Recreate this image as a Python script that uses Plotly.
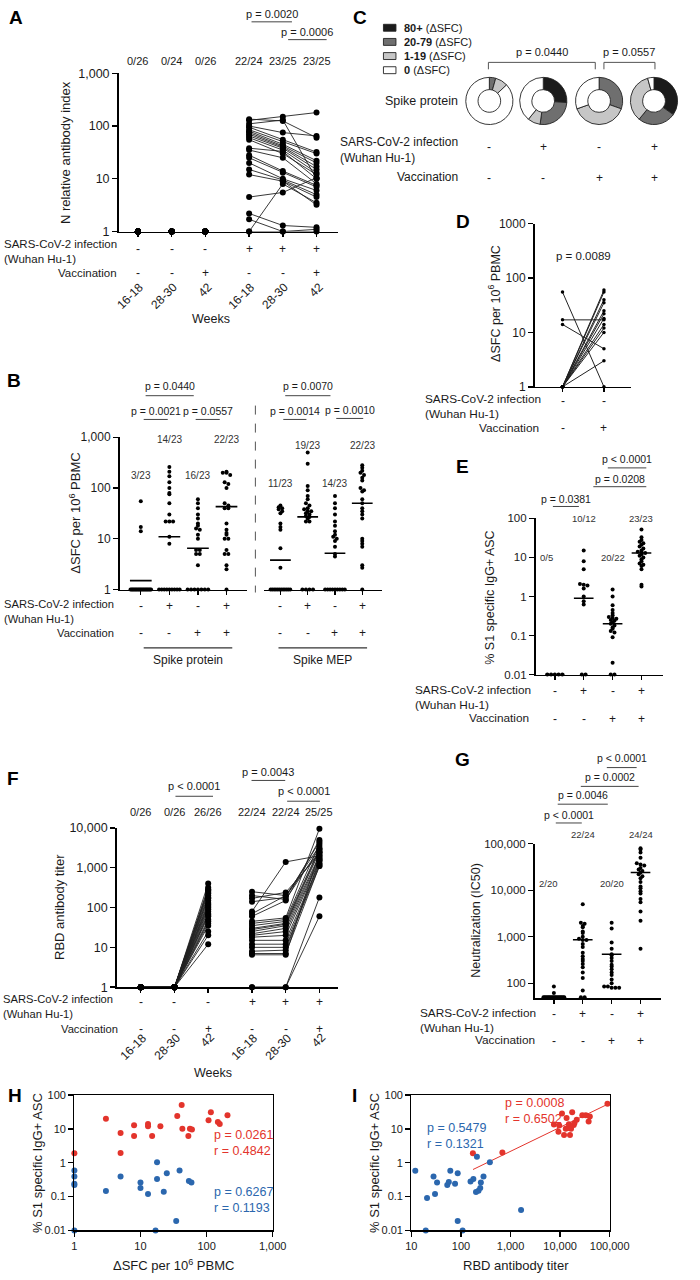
import numpy as np
import plotly.graph_objects as go

W, H = 700, 1280
FONT = "Liberation Sans, Arial, Helvetica, sans-serif"
LETTER_FONT = "Liberation Sans Narrow, Liberation Sans, Arial, sans-serif"
INK = "#1a1a1a"
RED = "#e3342c"
BLUE = "#2b67ae"
C_COLORS = ["#1b1b1b", "#6f6f6f", "#c6c6c6", "#ffffff"]

# ======================= DATA =======================
# --- Panel A: N relative antibody index ---
week_labels = ["16-18", "28-30", "42", "16-18", "28-30", "42"]
a_infection = ["-", "-", "-", "+", "+", "+"]
a_vaccination = ["-", "-", "+", "-", "-", "+"]
a_counts = ["0/26", "0/24", "0/26", "22/24", "23/25", "23/25"]
a_uninf_w16 = [1, 1, 1, 1, 1, 1, 1, 1, 1, 1, 1, 1, 1, 1, 1, 1, 1, 1, 1, 1, 1, 1, 1, 1, 1, 1]
a_uninf_w28 = [1, 1, 1, 1, 1, 1, 1, 1, 1, 1, 1, 1, 1, 1, 1, 1, 1, 1, 1, 1, 1, 1, 1, 1]
a_uninf_w42 = [1, 1, 1, 1, 1, 1, 1, 1, 1, 1, 1, 1, 1, 1, 1, 1, 1, 1, 1, 1, 1, 1, 1, 1, 1, 1]
a_inf_w16 = [135, 128, 110, 100, 95, 85, 80, 75, 70, 65, 60, 55, 38, 35, 28, 25, 20, 15, 12, 4.5, 2.2, 1.7, 1, 1, None]
a_inf_w28 = [125, 150, 130, 75, 55, 50, 45, 42, 40, 38, 35, 30, 33, 25, 14, 13, 10, 9.5, 9, 5.5, 1.3, 1, 1, 8, 9]
a_inf_w42 = [60, 180, 10, 65, 32, 30, 22, 20, 17, 15, 13, 12, 10, 8, 7.5, 7, 6, 5, 4.5, 10.5, 1.2, 1.1, 1, 3.5, 3.2]

# --- Panel B: dSFC per 10^6 PBMC ---
b_infection = ["-", "+", "-", "+"]
b_vaccination = ["-", "-", "+", "+"]
b_spike_counts = ["3/23", "14/23", "16/23", "22/23"]
b_mep_counts = ["11/23", "19/23", "14/23", "22/23"]
b_spike_g1 = [55, 17, 14, 1, 1, 1, 1, 1, 1, 1, 1, 1, 1, 1, 1, 1, 1, 1, 1, 1, 1, 1, 1]
b_spike_g2 = [260, 210, 170, 130, 100, 80, 75, 50, 30, 22, 22, 22, 11, 8, 1, 1, 1, 1, 1, 1, 1, 1, 1]
b_spike_g3 = [60, 50, 40, 30, 25, 20, 18, 16, 15, 12, 10, 6, 6, 5, 5, 3, 1, 1, 1, 1, 1, 1, 1]
b_spike_g4 = [210, 200, 200, 180, 130, 120, 100, 50, 45, 40, 40, 20, 15, 13, 12, 10, 10, 6, 5, 5, 3, 2.5, 1]
b_mep_g1 = [45, 42, 40, 38, 35, 32, 20, 17, 15, 6.5, 2.7, 1, 1, 1, 1, 1, 1, 1, 1, 1, 1, 1, 1]
b_mep_g2 = [500, 300, 110, 90, 70, 60, 50, 45, 40, 38, 35, 35, 32, 30, 28, 27, 25, 22, 22, 1, 1, 1, 1]
b_mep_g3 = [70, 50, 40, 30, 22, 18, 14, 12, 11, 10, 9, 7, 5, 4.5, 1, 1, 1, 1, 1, 1, 1, 1, 1]
b_mep_g4 = [280, 250, 220, 200, 180, 160, 140, 100, 90, 85, 60, 50, 40, 35, 30, 25, 10, 9, 8, 7, 3, 2.7, 1]
b_spike_mean = [1.5, 11, 6.5, 43]
b_mep_mean = [3.8, 27, 5.2, 50]

# --- Panel C: donuts (number of subjects per dSFC bin) ---
c_bins = ["80+", "20-79", "1-19", "0"]
c_counts = [[0, 1, 2, 20], [6, 6, 2, 9], [0, 7, 9, 7], [8, 6, 8, 1]]
c_infection = ["-", "+", "-", "+"]
c_vaccination = ["-", "-", "+", "+"]

# --- Panel D: paired dSFC ---
d_infection = ["-", "-"]
d_vaccination = ["-", "+"]
d_before = [55, 17, 14, 1, 1, 1, 1, 1, 1, 1, 1, 1, 1, 1]
d_after = [1, 17, 5, 60, 55, 40, 35, 25, 22, 18, 14, 12, 10, 3]

# --- Panel E: % S1 specific IgG+ ASC ---
e_counts = ["0/5", "10/12", "20/22", "23/23"]
e_g1 = [0.01, 0.01, 0.01, 0.01, 0.01]
e_g2 = [15, 8, 5, 2.1, 2, 1.9, 1.6, 1, 0.75, 0.62, 0.01, 0.01]
e_g3 = [1.5, 1, 0.6, 0.45, 0.38, 0.33, 0.3, 0.28, 0.27, 0.25, 0.24, 0.22, 0.2, 0.18, 0.16, 0.15, 0.13, 0.12, 0.09, 0.02, 0.01, 0.01]
e_g4 = [52, 33, 28, 25, 23, 21, 19, 17, 15, 14, 13.5, 13, 12, 11, 10, 9, 8, 7, 6.5, 6, 5, 2, 1.8]
e_mean = [0.01, 0.9, 0.2, 13]

# --- Panel F: RBD antibody titer ---
f_counts = ["0/26", "0/26", "26/26", "22/24", "22/24", "25/25"]
f_uninf_w16 = [1, 1, 1, 1, 1, 1, 1, 1, 1, 1, 1, 1, 1, 1, 1, 1, 1, 1, 1, 1, 1, 1, 1, 1, 1, 1]
f_uninf_w28 = [1, 1, 1, 1, 1, 1, 1, 1, 1, 1, 1, 1, 1, 1, 1, 1, 1, 1, 1, 1, 1, 1, 1, 1, 1, 1]
f_uninf_w42 = [400, 320, 290, 270, 250, 230, 200, 180, 170, 150, 130, 120, 110, 100, 90, 80, 70, 65, 60, 50, 45, 40, 35, 25, 20, 12]
f_inf_w16 = [250, 200, 170, 80, 140, 70, 60, 45, 40, 35, 30, 28, 25, 22, 20, 18, 15, 12, 10, 8, 7, 6.5, 1, 1, None]
f_inf_w28 = [200, 160, 240, 1400, 180, 200, 150, 55, 50, 45, 40, 38, 35, 30, 25, 20, 15, 12, 10, 8.5, 7, 6.5, 1, 1, None]
f_inf_w42 = [2500, 3000, 2200, 2000, 4500, 3500, 5000, 9500, 4000, 3000, 2800, 2500, 2000, 1800, 1600, 1500, 1300, 1200, 1100, 1500, 1100, 2400, 180, 60, 1700]

# --- Panel G: Neutralization (IC50) ---
g_counts = ["2/20", "22/24", "20/20", "24/24"]
g_g1 = [85, 62, 50, 50, 50, 50, 50, 50, 50, 50, 50, 50, 50, 50, 50, 50, 50, 50, 50, 50]
g_g2 = [5000, 2000, 1900, 1700, 1600, 1300, 1200, 1000, 900, 850, 850, 700, 600, 450, 380, 330, 300, 260, 220, 170, 130, 70, 50, 50]
g_g3 = [2000, 1500, 750, 550, 420, 400, 350, 300, 250, 230, 200, 170, 150, 120, 100, 85, 85, 80, 80, 80]
g_g4 = [80000, 75000, 65000, 50000, 38000, 36000, 34000, 30000, 28000, 26000, 24000, 22000, 20000, 18000, 15000, 12000, 11000, 9500, 8500, 6500, 5500, 3500, 2200, 550]
g_mean = [50, 860, 420, 24000]

# --- Panel H: ASC vs dSFC ---
h_red_x = [1, 3, 5, 5, 8, 8, 13, 13, 15, 20, 36, 42, 43, 53, 56, 60, 107, 116, 148, 158, 207]
h_red_y = [1.9, 20, 7.6, 1.95, 12.8, 6.1, 14, 12, 6.2, 12, 24, 51, 10, 6.2, 10, 9.5, 18, 31, 16, 14, 25]
h_blue_x = [1, 1, 1, 1, 1, 3, 5, 10, 10, 13, 17.8, 17.8, 22.5, 25, 34.7, 16.9, 39, 54, 59]
h_blue_y = [0.59, 0.39, 0.24, 0.22, 0.01, 0.146, 0.39, 0.26, 0.18, 0.12, 1.03, 0.33, 0.14, 0.49, 0.019, 0.01, 0.59, 0.29, 0.26]
h_red_stats = ["p = 0.0261", "r = 0.4842"]
h_blue_stats = ["p = 0.6267", "r = 0.1193"]

# --- Panel I: ASC vs RBD titer ---
i_red_x = [174, 684, 7500, 9250, 9600, 10900, 12000, 13000, 13500, 14600, 15000, 15800, 16600, 17500, 18800, 19500, 21600, 28000, 33000, 37600, 39700, 90000]
i_red_y = [1.9, 2.0, 13.4, 8.2, 12.5, 28.6, 6.6, 10, 21, 10.6, 13.7, 6.6, 10, 31, 12.9, 14.9, 18.6, 25, 25, 16.5, 23, 55]
i_blue_x = [12, 19.5, 20.7, 28, 30, 33, 53, 57, 61, 76, 86, 86, 108, 156, 178, 210, 201, 226, 245, 252, 285, 383, 1630]
i_blue_y = [0.58, 0.01, 0.091, 0.39, 0.12, 0.26, 0.22, 0.27, 0.58, 0.24, 0.49, 0.019, 0.01, 0.28, 0.33, 1.5, 0.137, 0.15, 0.18, 0.26, 0.39, 1.03, 0.04]
i_fit_x = [175, 100000]
i_fit_y = [0.63, 57]
i_red_stats = ["p = 0.0008", "r = 0.6502"]
i_blue_stats = ["p = 0.5479", "r = 0.1321"]

# ======================= HELPERS =======================
fig = go.Figure()
ann, shapes = [], []
axes = {}


def px_x(x):
    return x / W


def px_y(y):
    return 1 - y / H


def cat_range(L, R, c0, c1, p0, p1):
    s = (c1 - c0) / (p1 - p0)
    return [p0 - (c0 - L) / s, p1 + (R - c1) / s]


GAP = 0.3
pos2 = [0, 1]
pos4 = [0, 1, 2, 3]
pos6 = [0, 1, 2, 3 + GAP, 4 + GAP, 5 + GAP]

BASE = dict(showgrid=False, zeroline=False, showline=True, linecolor="black",
            linewidth=1.6, ticks="outside", tickcolor="black", tickwidth=1.4,
            ticklen=5, fixedrange=True,
            tickfont=dict(family=FONT, size=12, color=INK))


def xcat(key, L, R, c0, c1, positions, anchor):
    axes[key] = dict(BASE, domain=[px_x(L), px_x(R)], anchor=anchor,
                     range=cat_range(L, R, c0, c1, positions[0], positions[-1]),
                     tickvals=list(positions), showticklabels=False, ticklen=4)


def ylog(key, T, B, anchor, rng, tv, tt, size=12, **kw):
    axes[key] = dict(BASE, domain=[px_y(B), px_y(T)], anchor=anchor, type="log",
                     range=rng, tickvals=tv, ticktext=tt,
                     tickfont=dict(family=FONT, size=size, color=INK), **kw)


def xlog(key, L, R, anchor, rng, tv, tt, size=11, **kw):
    axes[key] = dict(BASE, domain=[px_x(L), px_x(R)], anchor=anchor, type="log",
                     range=rng, tickvals=tv, ticktext=tt,
                     tickfont=dict(family=FONT, size=size, color=INK), **kw)


def txt(t, x, y, size=11, xref="paper", xanchor="center", yanchor="middle",
        color=INK, angle=0, align="center", xshift=0, yshift=0, family=FONT):
    ann.append(dict(text=t, x=px_x(x) if xref == "paper" else x, y=px_y(y),
                    xref=xref, yref="paper", showarrow=False, xanchor=xanchor,
                    yanchor=yanchor, align=align, textangle=angle, xshift=xshift,
                    yshift=yshift, font=dict(family=family, size=size, color=color)))


def hline(x0, x1, y, color="#333", width=1.0, dash=None):
    shapes.append(dict(type="line", xref="paper", yref="paper", x0=px_x(x0), x1=px_x(x1),
                       y0=px_y(y), y1=px_y(y), line=dict(color=color, width=width, dash=dash)))


def bracket(x0, x1, ly, ty, label, size=10.5):
    hline(x0, x1, ly, color="#444", width=1.0)
    txt(label, (x0 + x1) / 2, ty, size)


def row_labels(right, inf_y, vac_y, vac_right=None, size=11.5):
    txt("SARS-CoV-2 infection<br>(Wuhan Hu-1)", right, inf_y, size, xanchor="right", align="left")
    txt("Vaccination", vac_right if vac_right else right, vac_y, size, xanchor="right")


def signs(xref, positions, inf, vac, inf_y, vac_y, size=12):
    for p, a, b in zip(positions, inf, vac):
        txt(a, p, inf_y, size, xref=xref)
        txt(b, p, vac_y, size, xref=xref)


def weeks(xref, positions, labels, end_y, size=12):
    for p, lab in zip(positions, labels):
        d = 0.27 * size * len(lab) * 0.7071
        txt(lab, p, end_y, size, xref=xref, angle=-45, xshift=4 - d, yshift=-d)


def swarm_offsets(vals, bin_w=0.06, step=0.13, max_half=0.36):
    v = np.log10(np.asarray(vals, float))
    keys = np.round(v / bin_w).astype(int)
    offs = np.zeros(len(v))
    for k in np.unique(keys):
        idx = np.where(keys == k)[0]
        n = len(idx)
        if n > 1:
            hw = min(max_half, (n - 1) * step / 2)
            offs[idx] = np.linspace(-hw, hw, n)
    return offs


def sc(**kw):
    kw.setdefault("showlegend", False)
    kw.setdefault("hoverinfo", "skip")
    kw.setdefault("cliponaxis", False)
    fig.add_trace(go.Scatter(**kw))


def dots(xa, ya, positions, groups, means, msize=4, mhalf=0.38):
    for p, vals, m in zip(positions, groups, means):
        off = swarm_offsets(vals)
        sc(x=p + off, y=vals, mode="markers", marker=dict(size=msize, color="black"),
           xaxis=xa, yaxis=ya)
        if m is not None:
            sc(x=[p - mhalf, p + mhalf], y=[m, m], mode="lines",
               line=dict(color="black", width=1.6), xaxis=xa, yaxis=ya)


def subject_lines(positions, series):
    xs, ys = [], []
    for i in range(len(series[0])):
        for p, s in zip(positions, series):
            if s[i] is not None:
                xs.append(p)
                ys.append(s[i])
        xs.append(None)
        ys.append(None)
    return xs, ys


def ytitle(t, x, y, size=12.5):
    txt(t, x, y, size, angle=-90)


def letter(t, x, y):
    txt("<b>" + t + "</b>", x, y, 19, family=LETTER_FONT, color="black")


# ======================= PANEL A =======================
xcat("xaxis", 117, 345, 137, 322.5, pos6, "y")
ylog("yaxis", 67, 227, "x", [0, 3], [1, 10, 100, 1000], ["1", "10", "100", "1,000"], size=12.5)
for p, vals in zip(pos6[:3], [a_uninf_w16, a_uninf_w28, a_uninf_w42]):
    sc(x=[p] * len(vals), y=vals, mode="markers", marker=dict(size=6, color="black"), xaxis="x", yaxis="y")
xs, ys = subject_lines(pos6[3:], [a_inf_w16, a_inf_w28, a_inf_w42])
sc(x=xs, y=ys, mode="lines+markers", line=dict(color="#222", width=0.9),
   marker=dict(size=6, color="black"), xaxis="x", yaxis="y", connectgaps=False)
for p, c in zip(pos6, a_counts):
    txt(c, p, 55, 11, xref="x")
bracket(255, 297, 15, 7, "p = 0.0020", 11)
bracket(293, 333, 33, 25, "p = 0.0006", 11)
ytitle("N relative antibody index", 62, 147, 13)
row_labels(117, 247, 269, size=11.5)
signs("x", pos6, a_infection, a_vaccination, 245, 269)
weeks("x", pos6, week_labels, 281)
txt("Weeks", 213, 315, 12.5)
letter("A", 10, 11)

# ======================= PANEL B =======================
xcat("xaxis2", 118, 250, 140, 229, pos4, "y2")
xcat("xaxis3", 268, 390, 285, 370, pos4, "y2")
ylog("yaxis2", 435, 589, "x2", [0, 3], [1, 10, 100, 1000], ["1", "10", "100", "1,000"], size=12)
dots("x2", "y2", pos4, [b_spike_g1, b_spike_g2, b_spike_g3, b_spike_g4], b_spike_mean)
dots("x3", "y2", pos4, [b_mep_g1, b_mep_g2, b_mep_g3, b_mep_g4], b_mep_mean)
for p, c, yy in zip(pos4, b_spike_counts, [474, 437, 474, 437]):
    txt(c, p, yy, 10, xref="x2", color="#333")
for p, c, yy in zip(pos4, b_mep_counts, [482, 443, 482, 443]):
    txt(c, p, yy, 10, xref="x3", color="#333")
shapes.append(dict(type="line", xref="paper", yref="paper", x0=px_x(259), x1=px_x(259),
                   y0=px_y(403), y1=px_y(592), line=dict(color="#555", width=1, dash="dash")))
bracket(145, 195, 393, 383, "p = 0.0440")
bracket(143, 168, 417, 408, "p = 0.0021")
bracket(197, 222, 417, 408, "p = 0.0557")
bracket(290, 337, 393, 383, "p = 0.0070")
bracket(288, 312, 417, 408, "p = 0.0014")
bracket(343, 371, 416, 407, "p = 0.0010")
ytitle("ΔSFC per 10<sup>6</sup> PBMC", 72, 512, 13)
row_labels(114, 611, 633, size=11.2)
signs("x2", pos4, b_infection, b_vaccination, 606, 633)
signs("x3", pos4, b_infection, b_vaccination, 606, 633)
hline(143, 235, 648, color="#333", width=1.2)
hline(283, 375, 648, color="#333", width=1.2)
txt("Spike protein", 189, 660, 12)
txt("Spike MEP", 329, 660, 12)
letter("B", 8, 378)

# ======================= PANEL C =======================
c_centers = [502, 558, 616, 673]
C_CY, C_R = 95, 24.5
for cx, counts in zip(c_centers, c_counts):
    fig.add_trace(go.Pie(values=counts, labels=c_bins, sort=False, direction="clockwise",
                         rotation=0, hole=0.48, textinfo="none", hoverinfo="skip",
                         showlegend=False,
                         marker=dict(colors=C_COLORS, line=dict(color="#222", width=0.9)),
                         domain=dict(x=[px_x(cx - C_R), px_x(cx + C_R)],
                                     y=[px_y(C_CY + C_R), px_y(C_CY - C_R)])))
for i, (lab, col) in enumerate(zip(c_bins, C_COLORS)):
    yc = 21 + 14.3 * i
    shapes.append(dict(type="rect", xref="paper", yref="paper", x0=px_x(392), x1=px_x(405),
                       y0=px_y(yc + 3.5), y1=px_y(yc - 3.5), fillcolor=col,
                       line=dict(color="#222", width=0.9)))
    txt("<b>" + lab + "</b> (ΔSFC)", 411, yc, 11, xanchor="left")
txt("Spike protein", 472, 95, 12.5, xanchor="right")


def c_bracket(x0, x1, label):
    shapes.append(dict(type="path", xref="paper", yref="paper",
                       path="M {} {} L {} {} L {} {} L {} {}".format(
                           px_x(x0), px_y(63), px_x(x0), px_y(56),
                           px_x(x1), px_y(56), px_x(x1), px_y(63)),
                       line=dict(color="#555", width=1)))
    txt(label, (x0 + x1) / 2, 45, 11)


c_bracket(501, 612, "p = 0.0440")
c_bracket(621, 674, "p = 0.0557")
txt("SARS-CoV-2 infection<br>(Wuhan Hu-1)", 472, 145, 12, xanchor="right", align="left")
txt("Vaccination", 472, 172, 12, xanchor="right")
for cx, a, b in zip(c_centers, c_infection, c_vaccination):
    txt(a, cx, 142, 12)
    txt(b, cx, 173, 12)
letter("C", 368, 11)

# ======================= PANEL D =======================
xcat("xaxis4", 549, 649, 578, 621, pos2, "y4")
ylog("yaxis4", 219, 384, "x4", [0, 3], [1, 10, 100, 1000], ["1", "10", "100", "1000"], size=12)
xs, ys = subject_lines(pos2, [d_before, d_after])
sc(x=xs, y=ys, mode="lines+markers", line=dict(color="#222", width=1),
   marker=dict(size=3.5, color="black"), xaxis="x4", yaxis="y4")
txt("p = 0.0089", 600, 252, 11.5)
ytitle("ΔSFC per 10<sup>6</sup> PBMC", 507, 300, 12.5)
row_labels(558, 404, 426, vac_right=556, size=11.8)
signs("x4", pos2, d_infection, d_vaccination, 398, 426)
letter("D", 475, 217)

# ======================= PANEL E =======================
xcat("xaxis5", 550, 682, 570, 660, pos4, "y5")
ylog("yaxis5", 517, 675, "x5", [-2, 2], [0.01, 0.1, 1, 10, 100],
     ["0.01", "0.1", "1", "10", "100"], size=11.5)
dots("x5", "y5", pos4, [e_g1, e_g2, e_g3, e_g4], e_mean, mhalf=0.34)
for p, c, yy, sh in zip(pos4, e_counts, [557, 517, 557, 517], [-8, 0, 0, 0]):
    txt(c, p, yy, 9.5, xref="x5", color="#333", xshift=sh)
bracket(568, 595, 505, 497, "p = 0.0381")
bracket(610, 665, 485, 477, "p = 0.0208")
bracket(625, 665, 466, 457, "p < 0.0001")
ytitle("% S1 specific IgG+ ASC", 503, 597, 12.5)
row_labels(547, 698, 719, vac_right=545, size=11.8)
signs("x5", pos4, b_infection, b_vaccination, 692, 720)
letter("E", 474, 465)

# ======================= PANEL F =======================
xcat("xaxis6", 115, 345, 140, 325.5, pos6, "y6")
ylog("yaxis6", 830, 991, "x6", [0, 4], [1, 10, 100, 1000, 10000],
     ["1", "10", "100", "1,000", "10,000"], size=12.5)
xs, ys = subject_lines(pos6[:3], [f_uninf_w16, f_uninf_w28, f_uninf_w42])
sc(x=xs, y=ys, mode="lines+markers", line=dict(color="#222", width=0.9),
   marker=dict(size=6, color="black"), xaxis="x6", yaxis="y6")
xs, ys = subject_lines(pos6[3:], [f_inf_w16, f_inf_w28, f_inf_w42])
sc(x=xs, y=ys, mode="lines+markers", line=dict(color="#222", width=0.9),
   marker=dict(size=6, color="black"), xaxis="x6", yaxis="y6")
for p, c in zip(pos6, f_counts):
    txt(c, p, 814, 11, xref="x6")
bracket(176, 215, 798, 788, "p < 0.0001", 11)
bracket(255, 290, 782, 773, "p = 0.0043", 11)
bracket(292, 326, 803, 793, "p < 0.0001", 11)
ytitle("RBD antibody titer", 55, 910, 13)
row_labels(113, 1011, 1033, vac_right=118, size=11.2)
signs("x6", pos6, a_infection, a_vaccination, 1006, 1033)
weeks("x6", pos6, week_labels, 1040)
txt("Weeks", 215, 1078, 12.5)
letter("F", 7, 780)

# ======================= PANEL G =======================
xcat("xaxis7", 549, 680, 569, 659, pos4, "y7")
ylog("yaxis7", 846, 1002, "x7", [np.log10(48), 5], [100, 1000, 10000, 100000],
     ["100", "1,000", "10,000", "100,000"], size=11.5)
dots("x7", "y7", pos4, [g_g1, g_g2, g_g3, g_g4], g_mean, mhalf=0.34)
for p, c, yy, sh in zip(pos4, g_counts, [886, 837, 886, 837], [-5, 0, 0, 0]):
    txt(c, p, yy, 9.5, xref="x7", color="#333", xshift=sh)
bracket(571, 598, 825, 817, "p < 0.0001")
bracket(573, 625, 806, 797, "p = 0.0046")
bracket(597, 657, 788, 779, "p = 0.0002")
bracket(624, 655, 769, 759, "p < 0.0001")
ytitle("Neutralization (IC50)", 488, 923, 12.5)
row_labels(553, 1025, 1044, vac_right=551, size=11.8)
signs("x7", pos4, b_infection, b_vaccination, 1018, 1045)
letter("G", 474, 761)

# ======================= PANEL H =======================
xlog("xaxis8", 71, 277, "y8", [0, 3], [1, 10, 100, 1000], ["1", "10", "100", "1,000"],
     size=11, mirror=True)
ylog("yaxis8", 1100, 1237, "x8", [-2, 2], [0.01, 0.1, 1, 10, 100],
     ["0.01", "0.1", "1", "10", "100"], size=11, mirror=True)
axes["xaxis8"]["linewidth"] = 1.2
axes["yaxis8"]["linewidth"] = 1.2
sc(x=h_red_x, y=h_red_y, mode="markers", marker=dict(size=6, color=RED), xaxis="x8", yaxis="y8")
sc(x=h_blue_x, y=h_blue_y, mode="markers", marker=dict(size=6, color=BLUE), xaxis="x8", yaxis="y8")
txt("<br>".join(h_red_stats), 214, 1149, 12.5, xanchor="left", align="left", color=RED)
txt("<br>".join(h_blue_stats), 214, 1206, 12.5, xanchor="left", align="left", color=BLUE)
ytitle("% S1 specific IgG+ ASC", 32, 1169, 13)
txt("ΔSFC per 10<sup>6</sup> PBMC", 174, 1272, 13)
letter("H", 9, 1101)

# ======================= PANEL I =======================
xlog("xaxis9", 421, 627, "y9", [1, 5], [10, 100, 1000, 10000, 100000],
     ["10", "100", "1,000", "10,000", "100,000"], size=11, mirror=True)
ylog("yaxis9", 1100, 1237, "x9", [-2, 2], [0.01, 0.1, 1, 10, 100],
     ["0.01", "0.1", "1", "10", "100"], size=11, mirror=True)
axes["xaxis9"]["linewidth"] = 1.2
axes["yaxis9"]["linewidth"] = 1.2
sc(x=i_fit_x, y=i_fit_y, mode="lines", line=dict(color=RED, width=1), xaxis="x9", yaxis="y9")
sc(x=i_red_x, y=i_red_y, mode="markers", marker=dict(size=6, color=RED), xaxis="x9", yaxis="y9")
sc(x=i_blue_x, y=i_blue_y, mode="markers", marker=dict(size=6, color=BLUE), xaxis="x9", yaxis="y9")
txt("<br>".join(i_red_stats), 516, 1116, 12.5, xanchor="left", align="left", color=RED)
txt("<br>".join(i_blue_stats), 435, 1141, 12.5, xanchor="left", align="left", color=BLUE)
ytitle("% S1 specific IgG+ ASC", 382, 1169, 13)
txt("RBD antibody titer", 530, 1272, 13)
letter("I", 362, 1101)

# ======================= LAYOUT =======================
fig.update_layout(width=W, height=H, margin=dict(l=0, r=0, t=0, b=0), autosize=False,
                  paper_bgcolor="white", plot_bgcolor="rgba(0,0,0,0)", showlegend=False,
                  font=dict(family=FONT, color=INK), annotations=ann, shapes=shapes, **axes)
fig.write_html("out.html", config={"displayModeBar": False, "staticPlot": True},
               post_script="document.body.style.margin='0';")
